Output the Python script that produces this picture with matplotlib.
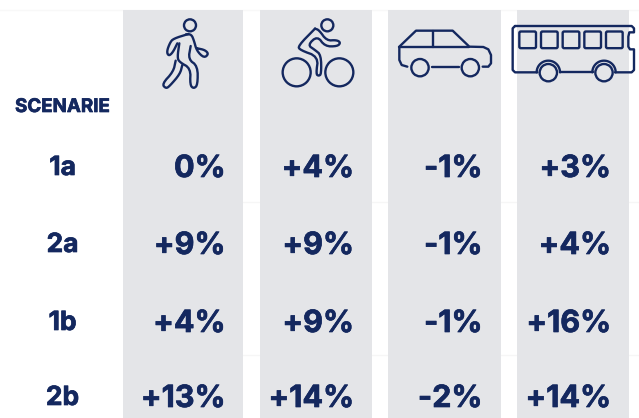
import numpy as np
import matplotlib
matplotlib.use('Agg')
import matplotlib.pyplot as plt
import matplotlib.patheffects as pe
from matplotlib.patches import Circle, FancyBboxPatch

scenarios = ['1a', '2a', '1b', '2b']
walk = ['0%', '+9%', '+4%', '+13%']
bike = ['+4%', '+9%', '+9%', '+14%']
car = ['-1%', '-1%', '-1%', '-2%']
bus = ['+3%', '+4%', '+16%', '+14%']

NAVY = '#14285f'
GREY = '#e4e5e8'
LW = 1.7

plt.rcParams['font.family'] = ['Inter', 'DejaVu Sans']

fig = plt.figure(figsize=(6.39, 4.18), dpi=100)
ax = fig.add_axes([0, 0, 1, 1])
ax.set_xlim(0, 639)
ax.set_ylim(418, 0)
ax.axis('off')

# grey column backgrounds
col_edges = [(123, 243), (260, 372), (388, 501), (517, 629)]
for left, right in col_edges:
    ax.fill_between([left, right], 10, 418, color=GREY, lw=0, zorder=1)

# faint row lines between the columns
ax.plot([0, 639], [10, 10], color='#f8f8f8', lw=1, zorder=0)
for y in [202, 355]:
    ax.plot([243, 639], [y, y], color='#f6f6f6', lw=1, zorder=0)


def soften(pts):
    # corner cutting so the figures get round joints
    pts = np.array(pts, dtype=float)
    for _ in range(2):
        a = pts[:-1] * 0.75 + pts[1:] * 0.25
        b = pts[:-1] * 0.25 + pts[1:] * 0.75
        mid = np.empty((len(a) * 2, 2))
        mid[0::2] = a
        mid[1::2] = b
        pts = np.vstack([pts[0], mid, pts[-1]])
    return pts


def line(ox, oy, pts, smooth=False):
    if smooth:
        pts = soften(pts)
    xs = [ox + p[0] / 3 for p in pts]
    ys = [oy + p[1] / 3 for p in pts]
    ax.plot(xs, ys, color=NAVY, lw=LW, solid_capstyle='round', solid_joinstyle='round', zorder=3)


def circle(ox, oy, cx, cy, r):
    ax.add_patch(Circle((ox + cx / 3, oy + cy / 3), r / 3, fill=False, ec=NAVY, lw=LW, zorder=3))


def arch(ox, oy, cx, cy, r):
    t = np.linspace(np.pi, 2 * np.pi, 40)
    line(ox, oy, list(zip(cx + r * np.cos(t), cy + r * np.sin(t))))


def draw_walker(ox):
    circle(ox, 0, 210, 76, 18)
    line(ox, 0, [(205, 102), (160, 116), (150, 128), (140, 155), (146, 168), (158, 158), (172, 130)], True)
    line(ox, 0, [(178, 130), (172, 172), (178, 186), (212, 205), (210, 255), (221, 266), (233, 255),
                 (233, 198), (205, 178), (212, 138)], True)
    line(ox, 0, [(198, 103), (214, 103), (222, 122), (230, 152), (252, 174), (266, 162), (255, 150), (232, 145)], True)
    line(ox, 0, [(167, 182), (160, 215), (126, 252), (138, 266), (150, 257), (180, 222), (187, 195)], True)


def draw_cyclist(ox):
    circle(ox, 0, 622, 76, 18)
    circle(ox, 0, 530, 217, 42)
    circle(ox, 0, 658, 217, 42)
    line(ox, 0, [(585, 86), (534, 138), (540, 150), (595, 170), (588, 222), (596, 228), (604, 222),
                 (603, 165), (585, 150), (563, 135), (592, 108), (615, 139), (652, 139), (662, 128),
                 (650, 120), (620, 122), (597, 90), (585, 86)], True)


def draw_car(ox):
    circle(ox, 0, 120, 203, 26)
    circle(ox, 0, 271, 203, 26)
    line(ox, 0, [(82, 200), (65, 195), (58, 180), (58, 140), (108, 92), (218, 92), (268, 140),
                 (310, 141), (325, 148), (333, 165), (333, 190), (325, 200), (308, 200)])
    line(ox, 0, [(58, 142), (268, 142)])
    line(ox, 0, [(158, 92), (158, 142)])
    line(ox, 0, [(155, 200), (237, 200)])


def draw_bus(ox):
    line(ox, 0, [(405, 78), (755, 78), (762, 85), (762, 97), (748, 97), (745, 110), (745, 140),
                 (750, 148), (762, 148), (762, 210), (755, 217), (705, 217)])
    line(ox, 0, [(640, 217), (540, 217)])
    line(ox, 0, [(472, 217), (405, 217), (398, 210), (398, 85), (405, 78)])
    for wx in [505, 672]:
        arch(ox, 0, wx, 217, 35)
        circle(ox, 0, wx, 218, 26)
    for wx in [418, 483, 548, 613, 678]:
        ax.add_patch(FancyBboxPatch((ox + wx / 3 + 1.5, 33), 50 / 3 - 3, 50 / 3 - 3,
                                    boxstyle='round,pad=1.5,rounding_size=1.5',
                                    fill=False, ec=NAVY, lw=LW, zorder=3))


draw_walker(120)
draw_cyclist(120)
draw_car(380)
draw_bus(380)

# table text, a thin stroke brings the weight up to the reference
heavy = [pe.withStroke(linewidth=0.5, foreground=NAVY)]
label_y = [168, 245, 323, 398]
row_y = [169, 246, 324, 399]
col_right = [225.5, 354, 482.5, 611]
ax.text(62.5, 107.5, 'SCENARIE', ha='center', va='center', color=NAVY, fontsize=13.5, fontweight='bold',
        zorder=4, path_effects=heavy)
for name, y in zip(scenarios, label_y):
    ax.text(62.5, y, name, ha='center', va='center', color=NAVY, fontsize=19, fontweight='bold',
            zorder=4, path_effects=heavy)
for values, x in zip([walk, bike, car, bus], col_right):
    for val, y in zip(values, row_y):
        ax.text(x, y, val, ha='right', va='center', color=NAVY, fontsize=22, fontweight='bold',
                zorder=4, path_effects=heavy)

fig.savefig('out.png', dpi=100)
